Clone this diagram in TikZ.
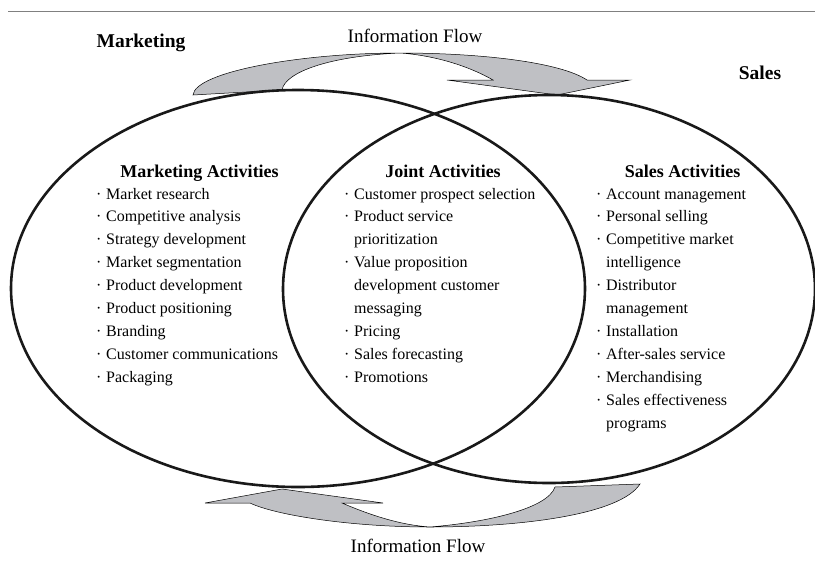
\documentclass[tikz,border=0pt]{standalone}
\usepackage{fontspec}
\setmainfont{Liberation Serif}
\usetikzlibrary{positioning}
\definecolor{flowgray}{RGB}{191,192,196}
\newcommand{\blt}{\makebox[10pt][l]{\raisebox{0pt}{·}}}
\newcommand{\ind}{\hspace*{10pt}}

\begin{document}
\begin{tikzpicture}[x=1pt,y=-1pt,
circ/.style={line width=2.6pt, draw=black!90},
flow/.style={draw=black, line width=0.5pt, fill=flowgray},
side/.style={font=\fontsize{19.5}{22}\selectfont\bfseries, inner sep=0pt, anchor=base},
head/.style={font=\fontsize{18}{20}\selectfont\bfseries, inner sep=0pt, anchor=base},
item/.style={font=\fontsize{16}{19}\selectfont, inner sep=0pt, anchor=base west},
flowlbl/.style={font=\fontsize{19}{22}\selectfont, inner sep=0pt, anchor=base}]
\useasboundingbox (0,0) rectangle (815,566);

% rule on top
\draw[black!50, line width=1.8pt] (8,11.5) -- (815,11.5);

% information flow arrows
\draw[flow] (193,95) .. controls (195,72) and (300,53) .. (400,53)
  .. controls (480,53) and (560,62) .. (587,80) -- (630,80) -- (557,95)
  -- (447,80) -- (493,80) .. controls (465,64) and (430,55) .. (400,53)
  .. controls (330,56) and (285,72) .. (282,90) -- cycle;
\draw[flow] (640,484) .. controls (620,515) and (520,527) .. (430,527)
  .. controls (350,527) and (275,515) .. (250,503) -- (205,503) -- (282,489)
  -- (383,503) -- (342,503) .. controls (370,515) and (400,525) .. (430,527)
  .. controls (490,522) and (548,508) .. (555,487) -- cycle;

% the two circles
\draw[circ] (298,288.5) ellipse [x radius=287, y radius=198.5];
\draw[circ] (549,289) ellipse [x radius=266, y radius=194];

% labels
\node[side] (MK) at (141,47) {Marketing};
\node[side] (SL) at (760,79) {Sales};
\node[flowlbl] (IFt) at (415,42) {Information Flow};
\node[flowlbl] (IFb) at (418,552) {Information Flow};

% marketing activities
\node[head] (MA) at (199.5,177) {Marketing Activities};
\foreach \t [count=\i from 0] in {\blt Market research, \blt Competitive analysis,
  \blt Strategy development, \blt Market segmentation, \blt Product development,
  \blt Product positioning, \blt Branding, \blt Customer communications, \blt Packaging}
  \node[item] (mk\i) at (96,199+22.9*\i) {\t};

% joint activities
\node[head] (JA) at (443,177) {Joint Activities};
\foreach \t [count=\i from 0] in {\blt Customer prospect selection, \blt Product service,
  \ind prioritization, \blt Value proposition, \ind development customer,
  \ind messaging, \blt Pricing, \blt Sales forecasting, \blt Promotions}
  \node[item] (jt\i) at (344,199+22.9*\i) {\t};

% sales activities
\node[head] (SA) at (682.5,177) {Sales Activities};
\foreach \t [count=\i from 0] in {\blt Account management, \blt Personal selling,
  \blt Competitive market, \ind intelligence, \blt Distributor, \ind management,
  \blt Installation, \blt After-sales service, \blt Merchandising,
  \blt Sales effectiveness, \ind programs}
  \node[item] (sl\i) at (596,199+22.9*\i) {\t};
\end{tikzpicture}
\end{document}
